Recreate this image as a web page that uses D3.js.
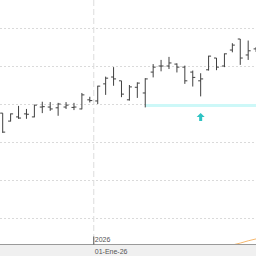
<!DOCTYPE html>
<html>
<head>
<meta charset="utf-8">
<script src="https://cdn.jsdelivr.net/npm/d3@7"></script>
<style>
  html, body { margin: 0; padding: 0; background: #fff; }
  svg { display: block; }
</style>
</head>
<body>
<div id="chart"></div>
<script>
// weekly OHLC bars (price units)
var open  = [107.6,105.5,106.6,107.4,106.6,109.2,109.2,109.0,109.2,109.1,108.7,111.1,110.8,115.3,117.1,116.1,111.1,114.4,112.9,118.4,120.0,120.0,120.5,119.7,118.4,116.1,119.0,122.1,120.0,124.2,127.1,122.9,124.5];
var high  = [107.6,107.5,109.5,108.7,109.8,110.6,110.5,110.3,110.5,110.3,112.9,111.9,114.8,117.2,119.7,116.1,115.0,115.7,116.8,120.5,121.6,122.4,120.7,120.1,118.8,118.1,122.7,122.1,123.3,126.0,127.1,126.7,125.0];
var low   = [102.4,105.4,106.1,106.1,106.5,107.6,108.2,106.9,108.7,108.4,108.6,110.4,110.0,112.4,114.8,111.8,110.9,111.6,109.1,117.0,118.6,119.2,118.3,115.3,114.6,112.0,118.8,118.9,119.7,123.6,120.3,121.6,123.7];
var close = [102.6,107.4,106.3,107.3,109.7,109.3,108.7,110.0,109.7,109.2,112.4,110.9,114.7,116.8,116.6,112.6,114.5,115.5,116.6,119.7,120.0,120.8,119.7,116.1,117.0,116.6,122.6,119.7,123.2,125.5,122.1,124.0,124.2];

var gridPrices = [80, 90, 100, 110, 120, 130];

// support zone and buy signal
var zoneStart = 18;
var zoneTop = 110, zoneBottom = 109.3;
var signalIndex = [25];
var signalPrice = [107.6];

// indicator line at the bottom
var indicatorIndex = [29, 30, 31, 32];
var indicatorValue = [72.9, 73.4, 74.0, 74.5];

// date marker
var markerIndex = [11.5];
var markerYear = ["2026"];
var markerDate = ["01-Ene-26"];

var width = 256, height = 256;
var axisY = 244.5;

var svg = d3.select("#chart").append("svg")
  .attr("width", width)
  .attr("height", height);

var x = d3.scaleLinear().domain([0, 32]).range([2.7, 256.1]);
var y = d3.scaleLinear().domain([80, 130]).range([218, 28]);

var bars = open.map(function (o, i) {
  return { i: i, o: o, h: high[i], l: low[i], c: close[i] };
});

// horizontal dotted grid
svg.append("g").selectAll("line")
  .data(gridPrices)
  .enter().append("line")
  .attr("x1", 0).attr("x2", width)
  .attr("y1", d => Math.round(y(d)) + 0.5)
  .attr("y2", d => Math.round(y(d)) + 0.5)
  .attr("stroke", "#dadada")
  .attr("stroke-dasharray", "2,2");

// support zone
svg.append("rect")
  .attr("x", x(zoneStart))
  .attr("y", Math.round(y(zoneTop)))
  .attr("width", width - x(zoneStart))
  .attr("height", 3)
  .attr("fill", "#cdf8f8");

// vertical dashed date line
svg.append("g").selectAll("line")
  .data(markerIndex)
  .enter().append("line")
  .attr("x1", d => x(d)).attr("x2", d => x(d))
  .attr("y1", 0).attr("y2", height)
  .attr("stroke", "#dcdcdc")
  .attr("stroke-dasharray", "6,3");

// OHLC bars
var g = svg.append("g").attr("stroke", "#404040").attr("stroke-width", 1);
var bar = g.selectAll("g.bar").data(bars).enter().append("g").attr("class", "bar");
bar.append("line")
  .attr("x1", d => x(d.i)).attr("x2", d => x(d.i))
  .attr("y1", d => y(d.h)).attr("y2", d => y(d.l));
bar.append("line")
  .attr("x1", d => x(d.i) - 2.5).attr("x2", d => x(d.i))
  .attr("y1", d => y(d.o)).attr("y2", d => y(d.o));
bar.append("line")
  .attr("x1", d => x(d.i)).attr("x2", d => x(d.i) + 2.5)
  .attr("y1", d => y(d.c)).attr("y2", d => y(d.c));

// buy signal arrow
svg.append("g").selectAll("path")
  .data(signalIndex)
  .enter().append("path")
  .attr("d", function (d, k) {
    var cx = x(d), ty = y(signalPrice[k]);
    return "M" + cx + "," + ty +
      "L" + (cx + 4) + "," + (ty + 4) +
      "L" + (cx + 1.5) + "," + (ty + 4) +
      "L" + (cx + 1.5) + "," + (ty + 8) +
      "L" + (cx - 1.5) + "," + (ty + 8) +
      "L" + (cx - 1.5) + "," + (ty + 4) +
      "L" + (cx - 4) + "," + (ty + 4) + "Z";
  })
  .attr("fill", "#2ec3c3");

// indicator line, clipped at the time axis
svg.append("clipPath").attr("id", "plotClip")
  .append("rect").attr("x", 0).attr("y", 0).attr("width", width).attr("height", axisY);

var line = d3.line()
  .x((d, k) => x(indicatorIndex[k]))
  .y(d => y(d));

svg.append("path")
  .datum(indicatorValue)
  .attr("clip-path", "url(#plotClip)")
  .attr("d", line)
  .attr("fill", "none")
  .attr("stroke", "#f6b86e")
  .attr("stroke-width", 1);

// time axis area
svg.append("rect")
  .attr("x", 0).attr("y", axisY)
  .attr("width", width).attr("height", height - axisY)
  .attr("fill", "#f0f0f0");

svg.append("line")
  .attr("x1", 0).attr("x2", width)
  .attr("y1", axisY).attr("y2", axisY)
  .attr("stroke", "#9a9a9a");

var marker = svg.append("g").selectAll("g")
  .data(markerIndex)
  .enter().append("g");

marker.append("line")
  .attr("x1", d => x(d)).attr("x2", d => x(d))
  .attr("y1", axisY - 8).attr("y2", axisY)
  .attr("stroke", "#555");

marker.append("text")
  .attr("x", d => x(d) + 1)
  .attr("y", axisY - 2.5)
  .attr("font-family", "Liberation Sans, Arial, sans-serif")
  .attr("font-size", "7px")
  .attr("fill", "#555")
  .text((d, k) => markerYear[k]);

marker.append("text")
  .attr("x", d => x(d) + 1)
  .attr("y", axisY + 9)
  .attr("font-family", "Liberation Sans, Arial, sans-serif")
  .attr("font-size", "7px")
  .attr("fill", "#555")
  .text((d, k) => markerDate[k]);
</script>
</body>
</html>
